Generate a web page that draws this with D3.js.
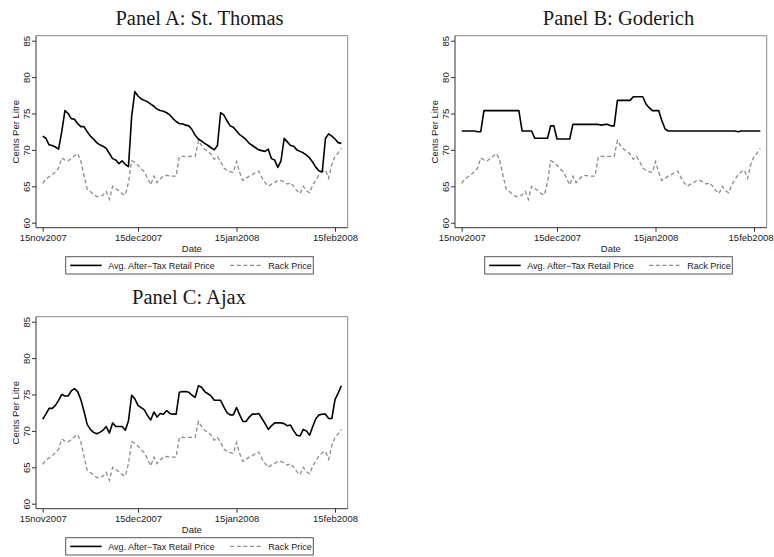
<!DOCTYPE html>
<html>
<head>
<meta charset="utf-8">
<script src="https://cdn.jsdelivr.net/npm/d3@7"></script>
<style>
  body { margin: 0; background: #fff; }
  svg { display: block; }
  .tick text { font-family: "Liberation Sans", Arial, sans-serif; font-size: 9.5px; fill: #1a1a1a; }
</style>
</head>
<body>
<svg id="chart" width="774" height="557"></svg>
<script>
// Daily observations, 15 Nov 2007 through 17 Feb 2008 (cents per litre)
const rackPrice = [
  65.4,66.0,66.3,66.6,67.0,67.5,68.9,68.6,68.5,68.8,
  69.2,69.5,68.5,66.5,64.6,64.3,63.9,63.6,63.6,63.8,
  64.3,63.2,65.0,64.7,64.4,64.0,63.8,65.5,68.5,68.3,
  67.9,67.4,67.0,66.1,65.2,66.4,65.5,66.0,66.4,66.5,
  66.4,66.4,66.4,69.1,69.1,69.1,69.1,69.1,69.1,71.3,
  70.6,70.1,69.8,69.4,68.7,69.1,68.4,67.5,67.2,67.0,
  66.9,68.4,66.9,65.8,66.1,66.4,66.6,66.9,67.1,66.2,
  65.5,65.0,65.3,65.5,65.8,65.8,65.6,65.3,65.5,65.0,
  64.4,64.0,65.0,64.4,64.1,65.2,65.9,66.6,67.0,67.2,
  66.1,68.0,69.1,69.6,70.2
];
const retailStThomas = [
  71.9,71.6,70.7,70.6,70.4,70.1,72.5,75.4,75.0,74.3,
  74.2,73.6,73.2,73.2,72.5,71.9,71.5,71.0,70.7,70.5,
  70.2,69.5,68.8,68.6,68.1,68.5,68.0,67.7,74.6,78.0,
  77.4,77.0,76.8,76.6,76.3,76.0,75.6,75.4,75.3,75.1,
  74.8,74.3,73.9,73.6,73.6,73.4,73.3,72.8,72.0,71.5,
  71.2,70.9,70.6,70.3,70.0,70.6,75.1,74.8,74.0,73.3,
  73.1,72.6,72.1,71.8,71.4,70.9,70.6,70.3,70.0,69.9,
  69.8,70.1,68.8,68.6,67.6,68.5,71.6,71.1,70.6,70.5,
  70.0,69.8,69.6,69.3,68.9,68.3,67.6,67.1,67.0,71.6,
  72.2,71.9,71.5,71.0,70.9
];
const retailGoderich = [
  72.6,72.6,72.6,72.6,72.6,72.5,72.5,75.4,75.4,75.4,
  75.4,75.4,75.4,75.4,75.4,75.4,75.4,75.4,75.4,72.6,
  72.6,72.6,72.6,71.6,71.6,71.6,71.6,71.6,73.3,73.3,
  71.5,71.5,71.5,71.5,71.5,73.5,73.5,73.5,73.5,73.5,
  73.5,73.5,73.5,73.5,73.4,73.5,73.5,73.3,73.3,76.8,
  76.8,76.8,76.8,76.8,77.3,77.3,77.3,77.3,76.3,75.8,
  75.4,75.4,75.4,74.0,72.9,72.6,72.6,72.6,72.6,72.6,
  72.6,72.6,72.6,72.6,72.6,72.6,72.6,72.6,72.6,72.6,
  72.6,72.6,72.6,72.6,72.6,72.6,72.6,72.5,72.6,72.6,
  72.6,72.6,72.6,72.6,72.6
];
const retailAjax = [
  71.6,72.3,73.1,73.1,73.5,74.2,75.0,74.8,74.8,75.5,
  75.8,75.4,74.3,72.7,70.9,70.2,69.8,69.6,69.8,70.1,
  70.6,69.7,71.1,70.6,70.6,70.6,70.1,71.4,74.9,74.4,
  73.5,73.2,72.9,72.1,71.5,72.6,71.9,72.4,72.3,72.8,
  72.4,72.3,72.3,75.3,75.4,75.4,75.3,74.9,74.6,76.2,
  76.0,75.4,75.1,74.8,74.2,74.2,74.2,73.3,72.5,72.2,
  72.2,73.2,72.2,71.3,71.3,71.9,72.3,72.3,72.4,71.7,
  71.0,70.2,70.7,71.1,71.1,71.1,71.0,70.7,70.8,70.0,
  69.4,69.3,70.2,70.0,69.4,70.6,71.7,72.2,72.3,72.3,
  71.7,71.7,74.3,75.2,76.2
];

const startDate = new Date(2007, 10, 15);
const dates = rackPrice.map((_, i) => d3.timeDay.offset(startDate, i));

const xTickDates = [new Date(2007, 10, 15), new Date(2007, 11, 15), new Date(2008, 0, 15), new Date(2008, 1, 15)];
const xTickLabels = ["15nov2007", "15dec2007", "15jan2008", "15feb2008"];
const yTicks = [60, 65, 70, 75, 80, 85];
const panelTitles = ["Panel A: St. Thomas", "Panel B: Goderich", "Panel C: Ajax"];
const panelRetail = [retailStThomas, retailGoderich, retailAjax];
const legendLabels = ["Avg. After\u2212Tax Retail Price", "Rack Price"];
const yTitle = "Cents Per Litre";
const xTitle = "Date";

// Placement of each panel and its title
const panels = [
  { dx: 0,   dy: 0,   titleX: 199.5, titleY: 25 },
  { dx: 419, dy: 0,   titleX: 618.5, titleY: 25 },
  { dx: 0,   dy: 281, titleX: 189,   titleY: 23 }
];

// Panel-local geometry
const frame = { left: 36, right: 347.7, top: 35.7, bottom: 227.7 };
const x = d3.scaleTime().domain([xTickDates[0], xTickDates[3]]).range([42.7, 335]);
const y = d3.scaleLinear().domain([60, 85]).range([222.7, 40.7]);

const svg = d3.select("#chart");
const sans = '"Liberation Sans", Arial, sans-serif';
const svgWidth = +svg.attr("width");

const line = d3.line()
  .x((d, i) => x(dates[i]))
  .y(d => y(d));

panels.forEach((p, k) => {
  const g = svg.append("g").attr("transform", `translate(${p.dx},${p.dy})`);

  // title
  svg.append("text")
    .attr("x", p.titleX).attr("y", p.dy + p.titleY)
    .attr("text-anchor", "middle")
    .style("font-family", '"Liberation Serif", "Times New Roman", serif')
    .style("font-size", "20.5px")
    .style("fill", "#1a1a1a")
    .text(panelTitles[k]);

  // plot region outline (top / right)
  g.append("path")
    .attr("d", `M${frame.left},${frame.top}H${frame.right}V${frame.bottom}`)
    .attr("fill", "none").attr("stroke", "#8a8a8a").attr("stroke-width", 1);

  // series
  g.append("path")
    .datum(rackPrice)
    .attr("d", line)
    .attr("fill", "none")
    .attr("stroke", "#8c8c8c")
    .attr("stroke-width", 1.3)
    .attr("stroke-dasharray", "4,2.6");

  g.append("path")
    .datum(panelRetail[k])
    .attr("d", line)
    .attr("fill", "none")
    .attr("stroke", "#000")
    .attr("stroke-width", 1.6)
    .attr("stroke-linejoin", "round");

  // y axis
  const ya = g.append("g")
    .attr("transform", `translate(${frame.left},0)`)
    .call(d3.axisLeft(y).tickValues(yTicks).tickSize(4).tickSizeOuter(0).tickFormat(d3.format("d")));
  ya.select(".domain").remove();
  ya.selectAll(".tick line").attr("stroke", "#333");
  ya.selectAll(".tick text")
    .attr("transform", "rotate(-90)")
    .attr("x", 0).attr("y", -6.5).attr("dy", 0)
    .attr("text-anchor", "middle");

  // x axis
  const xa = g.append("g")
    .attr("transform", `translate(0,${frame.bottom})`)
    .call(d3.axisBottom(x).tickValues(xTickDates).tickSize(4).tickSizeOuter(0)
      .tickFormat((d, i) => xTickLabels[i]));
  xa.select(".domain").remove();
  xa.selectAll(".tick line").attr("stroke", "#333");
  xa.selectAll(".tick text").attr("y", 13.2).attr("dy", 0);

  // keep the right-most date label inside the page
  xa.selectAll(".tick text").each(function () {
    const b = this.getBBox();
    const tx = p.dx + x(xTickDates[xTickLabels.indexOf(this.textContent)]);
    const overflow = tx + b.x + b.width - (svgWidth - 1);
    if (overflow > 0) d3.select(this).attr("x", -overflow);
  });

  // axis lines
  g.append("path")
    .attr("d", `M${frame.left},${frame.top}V${frame.bottom}H${frame.right}`)
    .attr("fill", "none").attr("stroke", "#333").attr("stroke-width", 1);

  // axis titles
  g.append("text")
    .attr("transform", `translate(18.5,${(frame.top + frame.bottom) / 2}) rotate(-90)`)
    .attr("text-anchor", "middle")
    .style("font-family", sans).style("font-size", "9.5px").style("fill", "#1a1a1a")
    .text(yTitle);
  g.append("text")
    .attr("x", (frame.left + frame.right) / 2).attr("y", 251.5)
    .attr("text-anchor", "middle")
    .style("font-family", sans).style("font-size", "9.5px").style("fill", "#1a1a1a")
    .text(xTitle);

  // legend
  const lg = g.append("g").attr("transform", "translate(65.7,256.7)");
  lg.append("rect").attr("width", 247.6).attr("height", 17.3)
    .attr("fill", "#fff").attr("stroke", "#555").attr("stroke-width", 1);
  lg.append("line").attr("x1", 4.5).attr("x2", 36).attr("y1", 8.7).attr("y2", 8.7)
    .attr("stroke", "#000").attr("stroke-width", 1.6);
  lg.append("text").attr("x", 42.5).attr("y", 12)
    .style("font-family", sans).style("font-size", "9px").style("fill", "#1a1a1a")
    .text(legendLabels[0]);
  lg.append("line").attr("x1", 164.5).attr("x2", 197.5).attr("y1", 8.7).attr("y2", 8.7)
    .attr("stroke", "#8c8c8c").attr("stroke-width", 1.3).attr("stroke-dasharray", "4,2.6");
  lg.append("text").attr("x", 202.5).attr("y", 12)
    .style("font-family", sans).style("font-size", "9px").style("fill", "#1a1a1a")
    .text(legendLabels[1]);
});
</script>
</body>
</html>
